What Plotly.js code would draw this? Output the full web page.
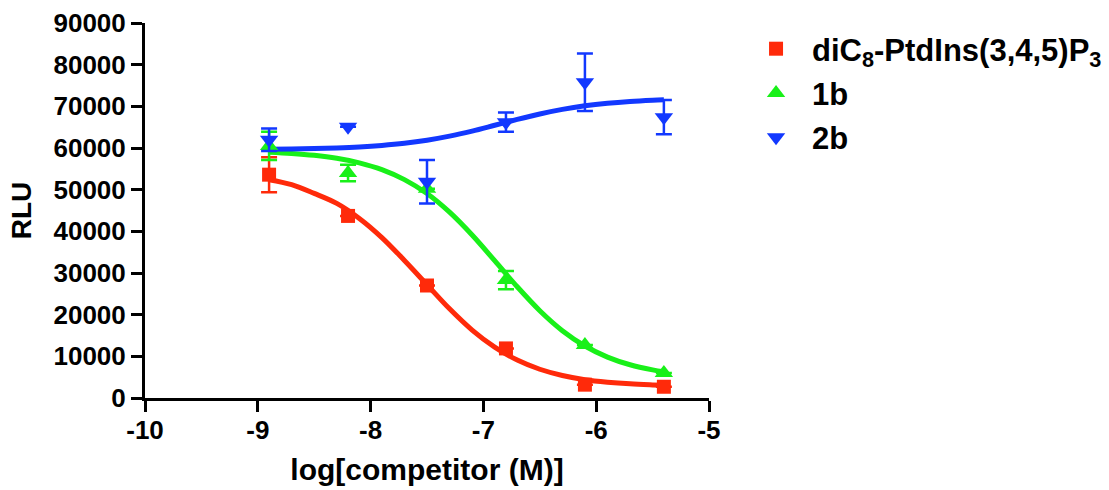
<!DOCTYPE html>
<html>
<head>
<meta charset="utf-8">
<script src="https://cdn.plot.ly/plotly-3.0.1.min.js"></script>
<style>html,body{margin:0;padding:0;background:#fff;}#chart{width:1109px;height:490px;}</style>
</head>
<body>
<div id="chart"></div>
<script>
// Measured points (log M)
const logConc = [-8.9, -8.2, -7.5, -6.8, -6.1, -5.4];
const pip3Values = [53600, 43700, 27000, 11900, 3200, 2700];
const pip3Errors = [4200, 0, 0, 0, 0, 0];
const cmp1bValues = [60500, 54000, 50200, 28300, 12700, 6000];
const cmp1bErrors = [3400, 2000, 0, 2200, 0, 0];
const cmp2bValues = [62000, 65100, 51900, 66200, 75800, 67400];
const cmp2bErrors = [2700, 0, 5200, 2300, 6900, 4100];

// Fitted curves
const curveX = [-8.9, -8.7, -8.5, -8.3, -8.1, -7.9, -7.7, -7.5, -7.3, -7.1, -6.9, -6.7, -6.5, -6.3, -6.1, -5.9, -5.7, -5.5, -5.4];
const pip3Curve = [52400, 51200, 49100, 46700, 43100, 38500, 33000, 27200, 21400, 16300, 12200, 9100, 6900, 5400, 4400, 3800, 3400, 3150, 3050];
const cmp1bCurve = [58990, 58700, 58240, 57530, 56440, 54810, 52410, 49070, 44590, 39110, 32950, 26690, 20950, 16165, 12485, 9824, 7983, 6750, 6303];
const cmp2bCurve = [59710, 59770, 59870, 60025, 60260, 60620, 61135, 61870, 62850, 64060, 65450, 66860, 68170, 69270, 70130, 70750, 71180, 71470, 71575];

const seriesNames = ['diC<sub>8</sub>-PtdIns(3,4,5)P<sub>3</sub>', '1b', '2b'];
const xTicks = [-10, -9, -8, -7, -6, -5];
const yTicks = [0, 10000, 20000, 30000, 40000, 50000, 60000, 70000, 80000, 90000];

const RED = '#ff2a0a', GREEN = '#19f019', BLUE = '#1238ff';
const FONT = 'Liberation Sans, Arial, sans-serif';

function curve(y, color) {
  return {x: curveX, y: y, mode: 'lines', type: 'scatter', showlegend: false, hoverinfo: 'skip',
    line: {color: color, width: 5, shape: 'spline'}};
}
function pts(y, err, color, symbol, name, size, group) {
  return {x: logConc, y: y, mode: 'markers', type: 'scatter', name: name, legendgroup: group,
    marker: {color: color, symbol: symbol, size: size},
    error_y: {type: 'data', array: err, visible: true, color: color, thickness: 2.5, width: 8}};
}

const data = [
  curve(pip3Curve, RED),
  curve(cmp1bCurve, GREEN),
  curve(cmp2bCurve, BLUE),
  pts(pip3Values, pip3Errors, RED, 'square', seriesNames[0], 14, 'a'),
  pts(cmp1bValues, cmp1bErrors, GREEN, 'triangle-up', seriesNames[1], 16, 'b'),
  pts(cmp2bValues, cmp2bErrors, BLUE, 'triangle-down', seriesNames[2], 16, 'c')
];

const axisCommon = {
  showline: true, linecolor: '#000', linewidth: 3, showgrid: false, zeroline: false,
  ticks: 'outside', ticklen: 11, tickwidth: 3, tickcolor: '#000',
  tickfont: {family: FONT, size: 26, color: '#000', weight: 'bold'}
};

const layout = {
  width: 1109, height: 490,
  paper_bgcolor: '#fff', plot_bgcolor: '#fff',
  margin: {l: 145, r: 400, t: 23, b: 92},
  showlegend: true,
  legend: {xref: 'container', yref: 'container', x: 0.6673, xanchor: 'left', y: 0.955, yanchor: 'top',
    traceorder: 'grouped',
    font: {family: FONT, size: 31, color: '#000', weight: 'bold'}, itemwidth: 62, tracegroupgap: 1,
    borderwidth: 0},
  xaxis: Object.assign({}, axisCommon, {
    range: [-10, -5], tickvals: xTicks, ticktext: xTicks.map(String), ticklabelstandoff: -4,
    title: {text: 'log[competitor (M)]', font: {family: FONT, size: 30, color: '#000', weight: 'bold'}, standoff: 15}
  }),
  yaxis: Object.assign({}, axisCommon, {
    range: [0, 90000], tickvals: yTicks, ticktext: yTicks.map(String),
    title: {text: 'RLU', font: {family: FONT, size: 28, color: '#000', weight: 'bold'}, standoff: 14}
  })
};

Plotly.newPlot('chart', data, layout, {displayModeBar: false, staticPlot: true});
</script>
</body>
</html>
